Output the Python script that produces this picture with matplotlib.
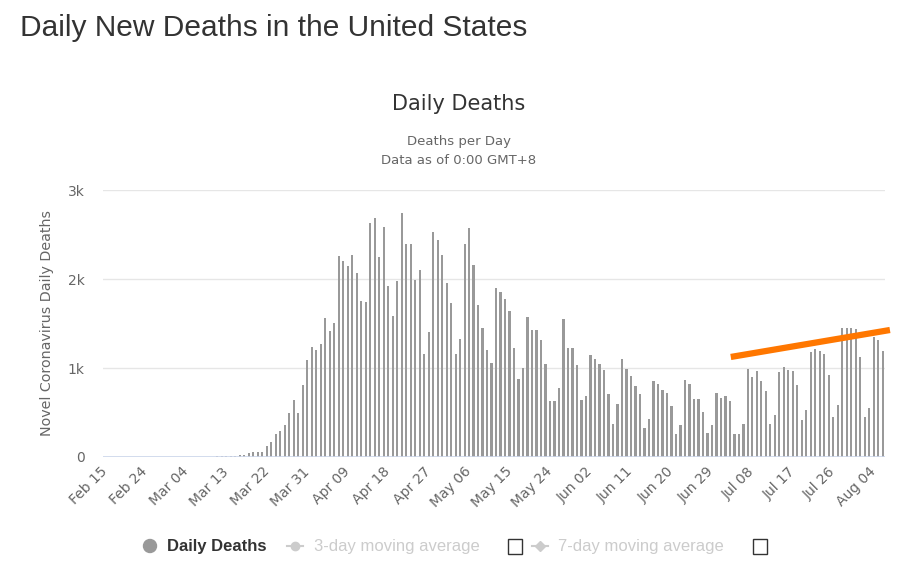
import numpy as np
import pandas as pd
import matplotlib
matplotlib.use("Agg")
import matplotlib.pyplot as plt
from matplotlib.patches import Circle, Rectangle
from matplotlib.ticker import FuncFormatter

# daily deaths, Feb 15 .. Aug 06
deaths = [0, 0, 0, 0, 0, 0, 0, 0, 0, 0, 0, 0, 0, 0, 1,
          1, 4, 1, 4, 1, 2, 3, 4, 4, 5, 8, 7, 10, 11, 10,
          20, 22, 45, 60, 60, 60, 128, 173, 256, 297, 361, 492, 639, 492, 808,
          1090, 1241, 1203, 1271, 1564, 1414, 1511, 2259, 2203, 2147, 2274, 2064, 1752, 1741, 2628,
          2684, 2244, 2583, 1921, 1583, 1974, 2737, 2398, 2398, 1992, 2105, 1162, 1402, 2523, 2440,
          2274, 1951, 1726, 1162, 1327, 2398, 2571, 2162, 1711, 1444, 1203, 1060, 1902, 1850, 1778,
          1639, 1229, 876, 1004, 1568, 1429, 1429, 1320, 1049, 624, 624, 778, 1553, 1229, 1229,
          1034, 639, 680, 1147, 1105, 1049, 977, 711, 372, 598, 1105, 992, 906, 793, 711,
          327, 425, 850, 823, 748, 722, 568, 256, 357, 865, 820, 650, 650, 511, 271,
          357, 722, 665, 680, 624, 256, 256, 372, 992, 895, 962, 850, 737, 372, 474,
          951, 1008, 977, 962, 808, 414, 526, 1177, 1218, 1192, 1162, 921, 455, 583, 1455,
          1455, 1455, 1440, 1120, 455, 553, 1346, 1316, 1192]
dates = pd.date_range("2020-02-15", periods=len(deaths))
tick_every = 9
y_ticks = [0, 1000, 2000, 3000]

# hand-drawn orange trend line (category index, deaths)
trend_x = [139.2, 174.6]
trend_y = [1124, 1427]

W, H = 921, 575
fig = plt.figure(figsize=(W / 100, H / 100), dpi=100)
fig.patch.set_facecolor("white")

# plot area in pixels: x 102.7..885, y 190..457
ax = fig.add_axes([102.7 / W, 1 - 457 / H, 782.3 / W, 267 / H])
idx = np.arange(len(deaths))
ax.bar(idx, deaths, width=0.5, color="#999999", zorder=2)
ax.set_xlim(-0.5, len(deaths) - 0.5)
ax.set_ylim(0, 3000)

for s in ax.spines.values():
    s.set_visible(False)
ax.axhline(0, color="#ccd6eb", lw=1.2, zorder=3)
ax.set_yticks(y_ticks)
ax.yaxis.set_major_formatter(FuncFormatter(lambda v, p: "0" if v == 0 else f"{int(v / 1000)}k"))
ax.yaxis.grid(True, color="#e6e6e6", lw=1)
ax.set_axisbelow(True)
ax.tick_params(axis="y", length=0, pad=13, labelsize=10, labelcolor="#666666")

ax.set_xticks(idx[::tick_every])
ax.set_xticklabels(dates[::tick_every].strftime("%b %d"), rotation=45, ha="right",
                   rotation_mode="anchor", va="center")
ax.tick_params(axis="x", length=0, pad=9, labelsize=10, labelcolor="#666666")

ax.plot(trend_x, trend_y, color="#ff7700", lw=4.5, solid_capstyle="butt", clip_on=False, zorder=5)

# overlay in pixel coordinates for titles / legend
ov = fig.add_axes([0, 0, 1, 1])
ov.set_xlim(0, W)
ov.set_ylim(H, 0)
ov.axis("off")
ov.patch.set_visible(False)

ov.text(20, 28, "Daily New Deaths in the United States", fontsize=21.5, family="Liberation Sans",
        color="#333333", ha="left", va="center")
ov.text(459, 104, "Daily Deaths", fontsize=15, color="#333333", ha="center", va="center")
ov.text(459, 142, "Deaths per Day", fontsize=9.5, color="#666666", ha="center", va="center")
ov.text(459, 160, "Data as of 0:00 GMT+8", fontsize=9.5, color="#666666", ha="center", va="center")
ov.text(47, 323, "Novel Coronavirus Daily Deaths", fontsize=10.3, color="#666666", rotation=90,
        ha="center", va="center")

# legend
leg_font = "Liberation Sans"
ly = 546
ov.add_patch(Circle((150, ly), 6.5, color="#999999"))
ov.text(167, ly, "Daily Deaths", fontsize=12, family=leg_font, fontweight="bold",
        color="#333333", ha="left", va="center")
ov.plot([287, 303], [ly, ly], color="#cccccc", lw=1.5)
ov.plot([295], [ly], "o", ms=6, color="#cccccc")
ov.text(314, ly, "3-day moving average", fontsize=12, family=leg_font, color="#cccccc",
        ha="left", va="center")
ov.add_patch(Rectangle((508, ly - 7), 14, 15, fill=False, ec="#333333", lw=1))
ov.plot([532, 548], [ly, ly], color="#cccccc", lw=1.5)
ov.plot([540], [ly], "D", ms=5, color="#cccccc")
ov.text(558, ly, "7-day moving average", fontsize=12, family=leg_font, color="#cccccc",
        ha="left", va="center")
ov.add_patch(Rectangle((753, ly - 7), 14, 15, fill=False, ec="#333333", lw=1))

fig.savefig("out.png", dpi=100)
